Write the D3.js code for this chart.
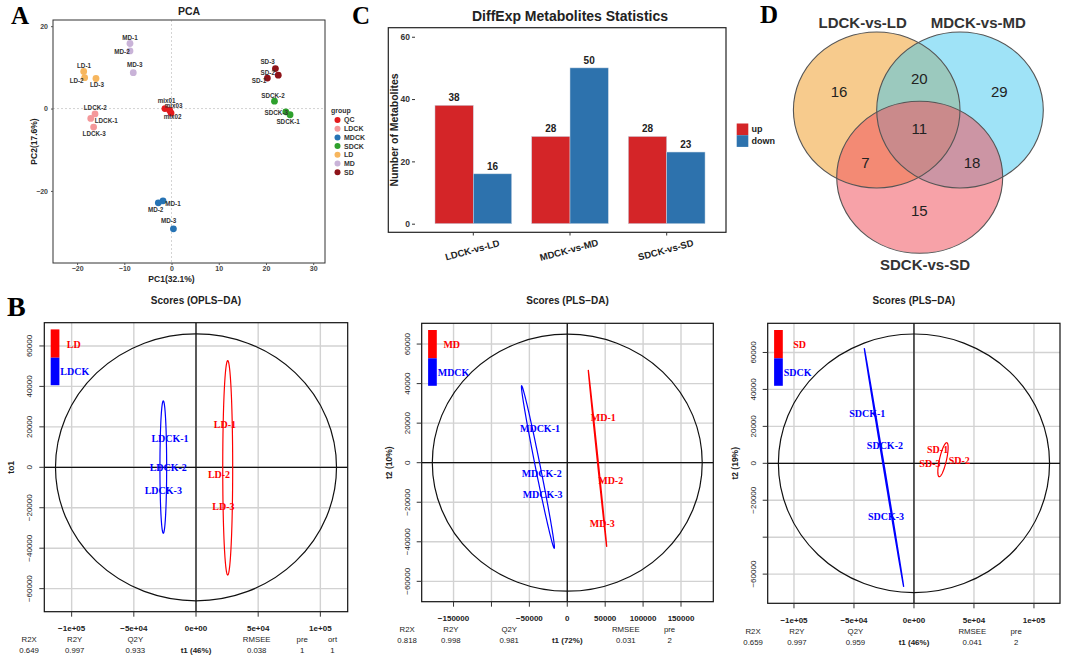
<!DOCTYPE html>
<html><head><meta charset="utf-8">
<script src="https://cdn.jsdelivr.net/npm/d3@7"></script>
<style>body{margin:0;background:#fff} svg{display:block}</style>
</head><body><svg id="c" width="1065" height="661"></svg>
<script>
// ================= DATA =================
// Panel A : PCA
const pcaSamples = ["mix01","mix02","mix03","LDCK-1","LDCK-2","LDCK-3","MD-1","MD-2","MD-3","SDCK-1","SDCK-2","SDCK-3","LD-1","LD-2","LD-3","MD-1","MD-2","MD-3","SD-1","SD-2","SD-3"];
const pcaGroup = ["QC","QC","QC","LDCK","LDCK","LDCK","MDCK","MDCK","MDCK","SDCK","SDCK","SDCK","LD","LD","LD","MD","MD","MD","SD","SD","SD"];
const pcaPC1 = [-1.4,-0.1,-0.4,-17.1,-16.2,-16.5,-1.8,-2.8,0.4,25.1,21.8,24.2,-18.6,-18.4,-16.0,-8.8,-8.8,-8.1,20.3,22.6,22.0];
const pcaPC2 = [0,-1.1,-0.4,-2.4,-1.3,-4.5,-22.4,-22.9,-29.2,-1.5,1.8,-0.8,9.0,7.5,7.3,15.8,14.0,8.7,7.4,8.1,9.7];
const pcaGroups = ["QC","LDCK","MDCK","SDCK","LD","MD","SD"];
const pcaColors = ["#e31a1c","#f4989a","#2673b4","#2ea02d","#f7b65e","#c9b3d8","#8e1419"];
const pcaXTicks = [-20,-10,0,10,20,30];
const pcaYTicks = [-20,0,20];

// Panel C : DiffExp statistics
const comparisons = ["LDCK-vs-LD","MDCK-vs-MD","SDCK-vs-SD"];
const upCounts = [38,28,28];
const downCounts = [16,50,23];
const diffYTicks = [0,20,40,60];

// Panel D : Venn
const vennSets = ["LDCK-vs-LD","MDCK-vs-MD","SDCK-vs-SD"];
const vennRegions = ["A","AB","B","ABC","AC","BC","C"];
const vennCounts = [16,20,29,11,7,18,15];

// Panel B : score plots
const b1Samples = ["LD-1","LD-2","LD-3","LDCK-1","LDCK-2","LDCK-3"];
const b1Class = ["LD","LD","LD","LDCK","LDCK","LDCK"];
const b1T1 = [23300,18500,22000,-20900,-22300,-26300];
const b1T2 = [21300,-3500,-19500,14000,0,-11700];
const b1EllA = [25500,-250,0,53000,4000,0];      // cx, cy, ux, uy, vx, vy
const b1EllB = [-26300,100,0,32700,2700,0];
const b1Hotelling = [113000,66000];
const b1XTicks = [-100000,-50000,0,50000,100000];
const b1XTickLabels = ["\u22121e+05","\u22125e+04","0e+00","5e+04","1e+05"];
const b1YTicks = [-60000,-40000,-20000,0,20000,40000,60000];
const b1YTickLabels = ["\u221260000","\u221240000","\u221220000","0","20000","40000","60000"];
const b1StatNames = ["R2X","R2Y","Q2Y","RMSEE","pre","ort"];
const b1StatVals = ["0.649","0.997","0.933","0.038","1","1"];

const b2Samples = ["MD-1","MD-2","MD-3","MDCK-1","MDCK-2","MDCK-3"];
const b2Class = ["MD","MD","MD","MDCK","MDCK","MDCK"];
const b2T1 = [47500,57300,46200,-36000,-33800,-32500];
const b2T2 = [23000,-9100,-30600,17400,-5400,-16000];
const b2EllA = [39850,2200,-12150,44700,600,0];
const b2EllB = [-38700,-2200,-21500,41100,3300,0];
const b2Hotelling = [178000,65000];
const b2XTicks = [-150000,-100000,-50000,0,50000,100000,150000];
const b2XTickLabels = ["\u2212150000","","\u221250000","0","50000","100000","150000"];
const b2YTicks = [-60000,-40000,-20000,0,20000,40000,60000];
const b2YTickLabels = ["\u221260000","\u221240000","\u221220000","0","20000","40000","60000"];
const b2StatNames = ["R2X","R2Y","Q2Y","RMSEE","pre"];
const b2StatVals = ["0.818","0.998","0.981","0.031","2"];

const b3Samples = ["SD-1","SD-2","SD-3","SDCK-1","SDCK-2","SDCK-3"];
const b3Class = ["SD","SD","SD","SDCK","SDCK","SDCK"];
const b3T1 = [19700,37800,13300,-38900,-24200,-23300];
const b3T2 = [7600,1400,0,26700,9400,-28900];
const b3EllA = [24175,1950,3075,9200,3000,0];
const b3EllB = [-25000,-2250,-16400,64550,500,0];
const b3Hotelling = [113000,70000];
const b3XTicks = [-100000,-50000,0,50000,100000];
const b3XTickLabels = ["\u22121e+05","\u22125e+04","0e+00","5e+04","1e+05"];
const b3YTicks = [-60000,-40000,-20000,0,20000,40000,60000];
const b3YTickLabels = ["\u221260000","","\u221220000","0","20000","40000","60000"];
const b3StatNames = ["R2X","R2Y","Q2Y","RMSEE","pre"];
const b3StatVals = ["0.659","0.997","0.959","0.041","2"];

// ================= DRAW =================
const SANS = "'Liberation Sans', Arial, Helvetica, sans-serif";
const SERIF = "'Liberation Serif', 'Times New Roman', serif";
const svg = d3.select("#c");
svg.append("rect").attr("width",1065).attr("height",661).attr("fill","#fff");

function letter(t,x,y,size){
  svg.append("text").attr("x",x).attr("y",y).text(t)
    .attr("font-family",SERIF).attr("font-weight","bold").attr("font-size",size).attr("fill","#000");
}
letter("A",11,24,25); letter("C",352,24,25); letter("D",760,23,25); letter("B",7,316,28);

// ---------- Panel A ----------
(function(){
  const L=53,R=325,T=20,B=263;
  const x = d3.scaleLinear().domain([-25.1,32.5]).range([L,R]);
  const y = d3.scaleLinear().domain([-37.5,21.5]).range([B,T]);
  const col = d3.scaleOrdinal().domain(pcaGroups).range(pcaColors);
  const g = svg.append("g");
  g.append("text").attr("x",(L+R)/2).attr("y",15).attr("text-anchor","middle")
    .attr("font-family",SANS).attr("font-weight","bold").attr("font-size",10.5).attr("fill","#222").text("PCA");
  g.append("line").attr("x1",x(0)).attr("x2",x(0)).attr("y1",T).attr("y2",B)
    .attr("stroke","#c8c8c8").attr("stroke-dasharray","2,2").attr("stroke-width",0.8);
  g.append("line").attr("x1",L).attr("x2",R).attr("y1",y(0)).attr("y2",y(0))
    .attr("stroke","#c8c8c8").attr("stroke-dasharray","2,2").attr("stroke-width",0.8);
  g.append("rect").attr("x",L).attr("y",T).attr("width",R-L).attr("height",B-T)
    .attr("fill","none").attr("stroke","#333").attr("stroke-width",1);
  const xa = g.append("g").attr("transform",`translate(0,${B})`)
    .call(d3.axisBottom(x).tickValues(pcaXTicks).tickSize(2).tickPadding(1.5).tickFormat(d3.format("d")));
  const ya = g.append("g").attr("transform",`translate(${L},0)`)
    .call(d3.axisLeft(y).tickValues(pcaYTicks).tickSize(2).tickFormat(d3.format("d")));
  [xa,ya].forEach(a=>{a.select(".domain").remove();
    a.selectAll("line").attr("stroke","#555");
    a.selectAll("text").attr("font-family",SANS).attr("font-weight","bold").attr("font-size",7).attr("fill","#444");});
  g.append("text").attr("x",x(0)).attr("y",281.5).attr("text-anchor","middle")
    .attr("font-family",SANS).attr("font-weight","bold").attr("font-size",8.5).attr("fill","#222").text("PC1(32.1%)");
  g.append("text").attr("transform",`translate(37,${(T+B)/2}) rotate(-90)`).attr("text-anchor","middle")
    .attr("font-family",SANS).attr("font-weight","bold").attr("font-size",8.5).attr("fill","#222").text("PC2(17.6%)");
  const idx = d3.range(pcaSamples.length);
  g.selectAll("circle.p").data(idx).join("circle").attr("class","p")
    .attr("cx",i=>x(pcaPC1[i])).attr("cy",i=>y(pcaPC2[i])).attr("r",3.4)
    .attr("fill",i=>col(pcaGroup[i]));
  // label offsets (px), repel-style placement
  const ldx = [1.7,1.5,4,15.5,0.3,0.5,10,-2.7,-4.8,-1.9,-1.5,-9.5,0.3,-8,1,0,-8,1.5,-8.4,-10.5,-7.8];
  const ldy = [-8,4,-4,2.7,-5.7,7,2.7,6.7,-7.7,7,-5.3,1,-5.7,3,6.3,-5.5,1.3,-7.7,2.3,-2.7,-6.7];
  g.selectAll("text.pl").data(idx).join("text").attr("class","pl")
    .attr("x",i=>x(pcaPC1[i])+ldx[i]).attr("y",i=>y(pcaPC2[i])+ldy[i]).attr("dy","0.35em")
    .attr("text-anchor","middle").attr("font-family",SANS).attr("font-weight","bold")
    .attr("font-size",6.3).attr("fill","#333").text(i=>pcaSamples[i]);
  // legend
  const lg = g.append("g");
  lg.append("text").attr("x",331).attr("y",113).attr("font-family",SANS).attr("font-weight","bold")
    .attr("font-size",7).attr("fill","#333").text("group");
  pcaGroups.forEach((k,i)=>{
    const yy = 120 + i*8.7;
    lg.append("circle").attr("cx",337.5).attr("cy",yy).attr("r",3).attr("fill",pcaColors[i]);
    lg.append("text").attr("x",344).attr("y",yy).attr("dy","0.35em").attr("font-family",SANS)
      .attr("font-weight","bold").attr("font-size",7).attr("fill","#333").text(k);
  });
})();

// ---------- Panel C ----------
(function(){
  const g = svg.append("g");
  const y = d3.scaleLinear().domain([-2.76,62.9]).range([232.3,27.7]);
  const x0 = d3.scaleBand().domain(comparisons).range([425.3,714.7]).paddingInner(0.207).paddingOuter(0.1);
  const x1 = d3.scaleBand().domain(["up","down"]).range([0,x0.bandwidth()]);
  const colors = {up:"#d42528", down:"#2d72ad"};
  g.append("text").attr("x",570).attr("y",21).attr("text-anchor","middle").attr("font-family",SANS)
    .attr("font-weight","bold").attr("font-size",14).attr("fill","#222").text("DiffExp Metabolites Statistics");
  g.append("rect").attr("x",388.3).attr("y",27.7).attr("width",726-388.3).attr("height",232.3-27.7)
    .attr("fill","none").attr("stroke","#222").attr("stroke-width",1.2);
  const ya = g.append("g").attr("transform","translate(415,0)")
    .call(d3.axisLeft(y).tickValues(diffYTicks).tickSize(3).tickPadding(2));
  ya.select(".domain").remove();
  ya.selectAll("line").attr("stroke","#333");
  ya.selectAll("text").attr("font-family",SANS).attr("font-weight","bold").attr("font-size",8.5).attr("fill","#333");
  g.append("text").attr("transform","translate(398,130) rotate(-90)").attr("text-anchor","middle")
    .attr("font-family",SANS).attr("font-weight","bold").attr("font-size",10.5).attr("fill","#222").text("Number of Metabolites");
  const rows = comparisons.map((c,i)=>[{c,k:"up",v:upCounts[i]},{c,k:"down",v:downCounts[i]}]).flat();
  g.selectAll("rect.bar").data(rows).join("rect").attr("class","bar")
    .attr("x",d=>x0(d.c)+x1(d.k)).attr("width",x1.bandwidth())
    .attr("y",d=>y(d.v)).attr("height",d=>y(0)-y(d.v))
    .attr("fill",d=>colors[d.k]).attr("stroke","#c9d6e3").attr("stroke-width",0.5);
  g.selectAll("text.val").data(rows).join("text").attr("class","val")
    .attr("x",d=>x0(d.c)+x1(d.k)+x1.bandwidth()/2).attr("y",d=>y(d.v)-4)
    .attr("text-anchor","middle").attr("font-family",SANS).attr("font-weight","bold")
    .attr("font-size",10).attr("fill","#222").text(d=>d.v);
  comparisons.forEach(c=>{
    const cx = x0(c)+x0.bandwidth()/2;
    g.append("line").attr("x1",cx).attr("x2",cx).attr("y1",232.3).attr("y2",235.5).attr("stroke","#333");
    g.append("text").attr("transform",`translate(${cx-1},${250}) rotate(-15)`).attr("text-anchor","middle")
      .attr("dy","0.35em").attr("font-family",SANS).attr("font-weight","bold").attr("font-size",9.5)
      .attr("fill","#222").text(c);
  });
  ["up","down"].forEach((k,i)=>{
    g.append("rect").attr("x",736.7).attr("y",123.5+i*11.7).attr("width",11.6).attr("height",11.7).attr("fill",colors[k]);
    g.append("text").attr("x",751.5).attr("y",129.3+i*11.7).attr("dy","0.35em").attr("font-family",SANS)
      .attr("font-weight","bold").attr("font-size",9).attr("fill","#222").text(k);
  });
})();

// ---------- Panel D ----------
(function(){
  const g = svg.append("g");
  const circ = [
    {cx:876.7, cy:110, rx:83.3, ry:78, fill:"#F0A030", op:0.55},
    {cx:960,   cy:110, rx:83.3, ry:78, fill:"#40C8F0", op:0.5},
    {cx:919.7, cy:177.3, rx:83, ry:76, fill:"#F05560", op:0.55}
  ];
  circ.forEach(c=>g.append("ellipse").attr("cx",c.cx).attr("cy",c.cy).attr("rx",c.rx).attr("ry",c.ry)
    .attr("fill",c.fill).attr("fill-opacity",c.op));
  circ.forEach(c=>g.append("ellipse").attr("cx",c.cx).attr("cy",c.cy).attr("rx",c.rx).attr("ry",c.ry)
    .attr("fill","none").attr("stroke","#555").attr("stroke-width",1.1));
  const setPos = [[862.7,27.5],[978.3,27.5],[925,270]];
  vennSets.forEach((s,i)=>g.append("text").attr("x",setPos[i][0]).attr("y",setPos[i][1]).attr("text-anchor","middle")
    .attr("font-family",SANS).attr("font-weight","bold").attr("font-size",15).attr("fill","#333").text(s));
  const regPos = {A:[839,91.7],AB:[919.3,78.7],B:[999.3,91.7],ABC:[919.3,128.7],AC:[865.3,163],BC:[972,163],C:[919.3,210.7]};
  vennRegions.forEach((r,i)=>g.append("text").attr("x",regPos[r][0]).attr("y",regPos[r][1]).attr("dy","0.35em")
    .attr("text-anchor","middle").attr("font-family",SANS).attr("font-size",15).attr("fill","#222").text(vennCounts[i]));
})();

// ---------- Panel B ----------
function scorePlot(o){
  const g = svg.append("g");
  const [L,R,T,B] = o.box;
  const x = d3.scaleLinear().domain(o.xDom).range([L,R]);
  const y = d3.scaleLinear().domain(o.yDom).range([B,T]);
  const cid = "clip"+Math.round(L);
  svg.append("clipPath").attr("id",cid).append("rect").attr("x",L).attr("y",T).attr("width",R-L).attr("height",B-T);
  const pg = g.append("g").attr("clip-path",`url(#${cid})`);
  o.xTicks.forEach(v=>pg.append("line").attr("x1",x(v)).attr("x2",x(v)).attr("y1",T).attr("y2",B)
    .attr("stroke","#d2d2d2").attr("stroke-width",1.4));
  o.yTicks.forEach(v=>pg.append("line").attr("x1",L).attr("x2",R).attr("y1",y(v)).attr("y2",y(v))
    .attr("stroke","#d2d2d2").attr("stroke-width",1.4));
  pg.append("line").attr("x1",x(0)).attr("x2",x(0)).attr("y1",T).attr("y2",B).attr("stroke","#111").attr("stroke-width",1.3);
  pg.append("line").attr("x1",L).attr("x2",R).attr("y1",y(0)).attr("y2",y(0)).attr("stroke","#111").attr("stroke-width",1.3);
  pg.append("ellipse").attr("cx",x(0)).attr("cy",y(0)).attr("rx",x(o.hot[0])-x(0)).attr("ry",y(0)-y(o.hot[1]))
    .attr("fill","none").attr("stroke","#111").attr("stroke-width",1.2);
  const line = d3.line().curve(d3.curveLinearClosed);
  function ell(e){const p=[];for(let i=0;i<120;i++){const t=i/120*2*Math.PI;
    p.push([x(e[0]+e[2]*Math.cos(t)+e[4]*Math.sin(t)), y(e[1]+e[3]*Math.cos(t)+e[5]*Math.sin(t))]);}return line(p);}
  pg.append("path").attr("d",ell(o.ellB)).attr("fill","none").attr("stroke","#0000ff").attr("stroke-width",1.2);
  pg.append("path").attr("d",ell(o.ellA)).attr("fill","none").attr("stroke","#ff0000").attr("stroke-width",1.2);
  const idx = d3.range(o.samples.length);
  pg.selectAll("text.s").data(idx).join("text").attr("class","s")
    .attr("x",i=>x(o.t1[i])).attr("y",i=>y(o.t2[i])).attr("dy","0.35em").attr("text-anchor","middle")
    .attr("font-family",SERIF).attr("font-weight","bold").attr("font-size",10)
    .attr("fill",i=>o.cls[i]===o.classes[0]?"#ff0000":"#0000ff").text(i=>o.samples[i]);
  // legend
  pg.append("rect").attr("x",L+6.4).attr("y",T+6.7).attr("width",8.7).attr("height",28.3).attr("fill","#ff0000");
  pg.append("rect").attr("x",L+6.4).attr("y",T+35).attr("width",8.7).attr("height",27.5).attr("fill","#0000ff");
  pg.append("text").attr("x",L+15.1+o.legDx).attr("y",T+21.5).attr("dy","0.35em").attr("font-family",SERIF)
    .attr("font-weight","bold").attr("font-size",10).attr("fill","#ff0000").text(o.classes[0]);
  pg.append("text").attr("x",L+16).attr("y",T+48.7).attr("dy","0.35em").attr("font-family",SERIF)
    .attr("font-weight","bold").attr("font-size",10).attr("fill","#0000ff").text(o.classes[1]);
  g.append("rect").attr("x",L).attr("y",T).attr("width",R-L).attr("height",B-T)
    .attr("fill","none").attr("stroke","#111").attr("stroke-width",1.2);
  // axes
  g.append("text").attr("x",(L+R)/2).attr("y",T-19).attr("text-anchor","middle").attr("font-family",SANS)
    .attr("font-weight","bold").attr("font-size",10).attr("fill","#222").text(o.title);
  o.xTicks.forEach((v,i)=>{
    g.append("line").attr("x1",x(v)).attr("x2",x(v)).attr("y1",B).attr("y2",B+5).attr("stroke","#333");
    g.append("text").attr("x",x(v)).attr("y",o.tickY).attr("dy","0.35em").attr("text-anchor","middle")
      .attr("font-family",SANS).attr("font-weight","bold").attr("font-size",8).attr("fill","#222").text(o.xLabels[i]);
  });
  o.yTicks.forEach((v,i)=>{
    g.append("line").attr("x1",L-5).attr("x2",L).attr("y1",y(v)).attr("y2",y(v)).attr("stroke","#333");
    g.append("text").attr("transform",`translate(${L-12},${y(v)}) rotate(-90)`).attr("text-anchor","middle")
      .attr("font-family",SANS).attr("font-size",8).attr("fill","#222").text(o.yLabels[i]);
  });
  g.append("text").attr("transform",`translate(${L-30},${y(0)}) rotate(-90)`).attr("text-anchor","middle")
    .attr("font-family",SANS).attr("font-weight","bold").attr("font-size",8.5).attr("fill","#222").text(o.yTitle);
  const fr = [-0.05,0.1,0.3,0.7,0.85,0.95];
  o.statNames.forEach((s,i)=>{
    const xx = L + fr[i]*(R-L);
    g.append("text").attr("x",xx).attr("y",o.tickY+11).attr("dy","0.35em").attr("text-anchor","middle")
      .attr("font-family",SANS).attr("font-size",7.8).attr("fill","#222").text(s);
    g.append("text").attr("x",xx).attr("y",o.tickY+22).attr("dy","0.35em").attr("text-anchor","middle")
      .attr("font-family",SANS).attr("font-size",7.8).attr("fill","#222").text(o.statVals[i]);
  });
  g.append("text").attr("x",x(0)).attr("y",o.tickY+22).attr("dy","0.35em").attr("text-anchor","middle")
    .attr("font-family",SANS).attr("font-weight","bold").attr("font-size",8).attr("fill","#222").text(o.xTitle);
}

scorePlot({box:[44.3,347.7,322.7,611.7], xDom:[-122000,122000], yDom:[-71400,71500], tickY:628,
  title:"Scores (OPLS\u2212DA)", yTitle:"to1", xTitle:"t1 (46%)", classes:["LD","LDCK"], legDx:7.4,
  samples:b1Samples, cls:b1Class, t1:b1T1, t2:b1T2, ellA:b1EllA, ellB:b1EllB, hot:b1Hotelling,
  xTicks:b1XTicks, xLabels:b1XTickLabels, yTicks:b1YTicks, yLabels:b1YTickLabels,
  statNames:b1StatNames, statVals:b1StatVals});
scorePlot({box:[421.7,713.3,323.3,601.7], xDom:[-192000,192600], yDom:[-70300,70500], tickY:618.5,
  title:"Scores (PLS\u2212DA)", yTitle:"t2 (10%)", xTitle:"t1 (72%)", classes:["MD","MDCK"], legDx:6.6,
  samples:b2Samples, cls:b2Class, t1:b2T1, t2:b2T2, ellA:b2EllA, ellB:b2EllB, hot:b2Hotelling,
  xTicks:b2XTicks, xLabels:b2XTickLabels, yTicks:b2YTicks, yLabels:b2YTickLabels,
  statNames:b2StatNames, statVals:b2StatVals});
scorePlot({box:[767.7,1060,323.3,603.3], xDom:[-121900,121700], yDom:[-75800,75800], tickY:620,
  title:"Scores (PLS\u2212DA)", yTitle:"t2 (19%)", xTitle:"t1 (46%)", classes:["SD","SDCK"], legDx:10.4,
  samples:b3Samples, cls:b3Class, t1:b3T1, t2:b3T2, ellA:b3EllA, ellB:b3EllB, hot:b3Hotelling,
  xTicks:b3XTicks, xLabels:b3XTickLabels, yTicks:b3YTicks, yLabels:b3YTickLabels,
  statNames:b3StatNames, statVals:b3StatVals});
</script>
</body></html>
